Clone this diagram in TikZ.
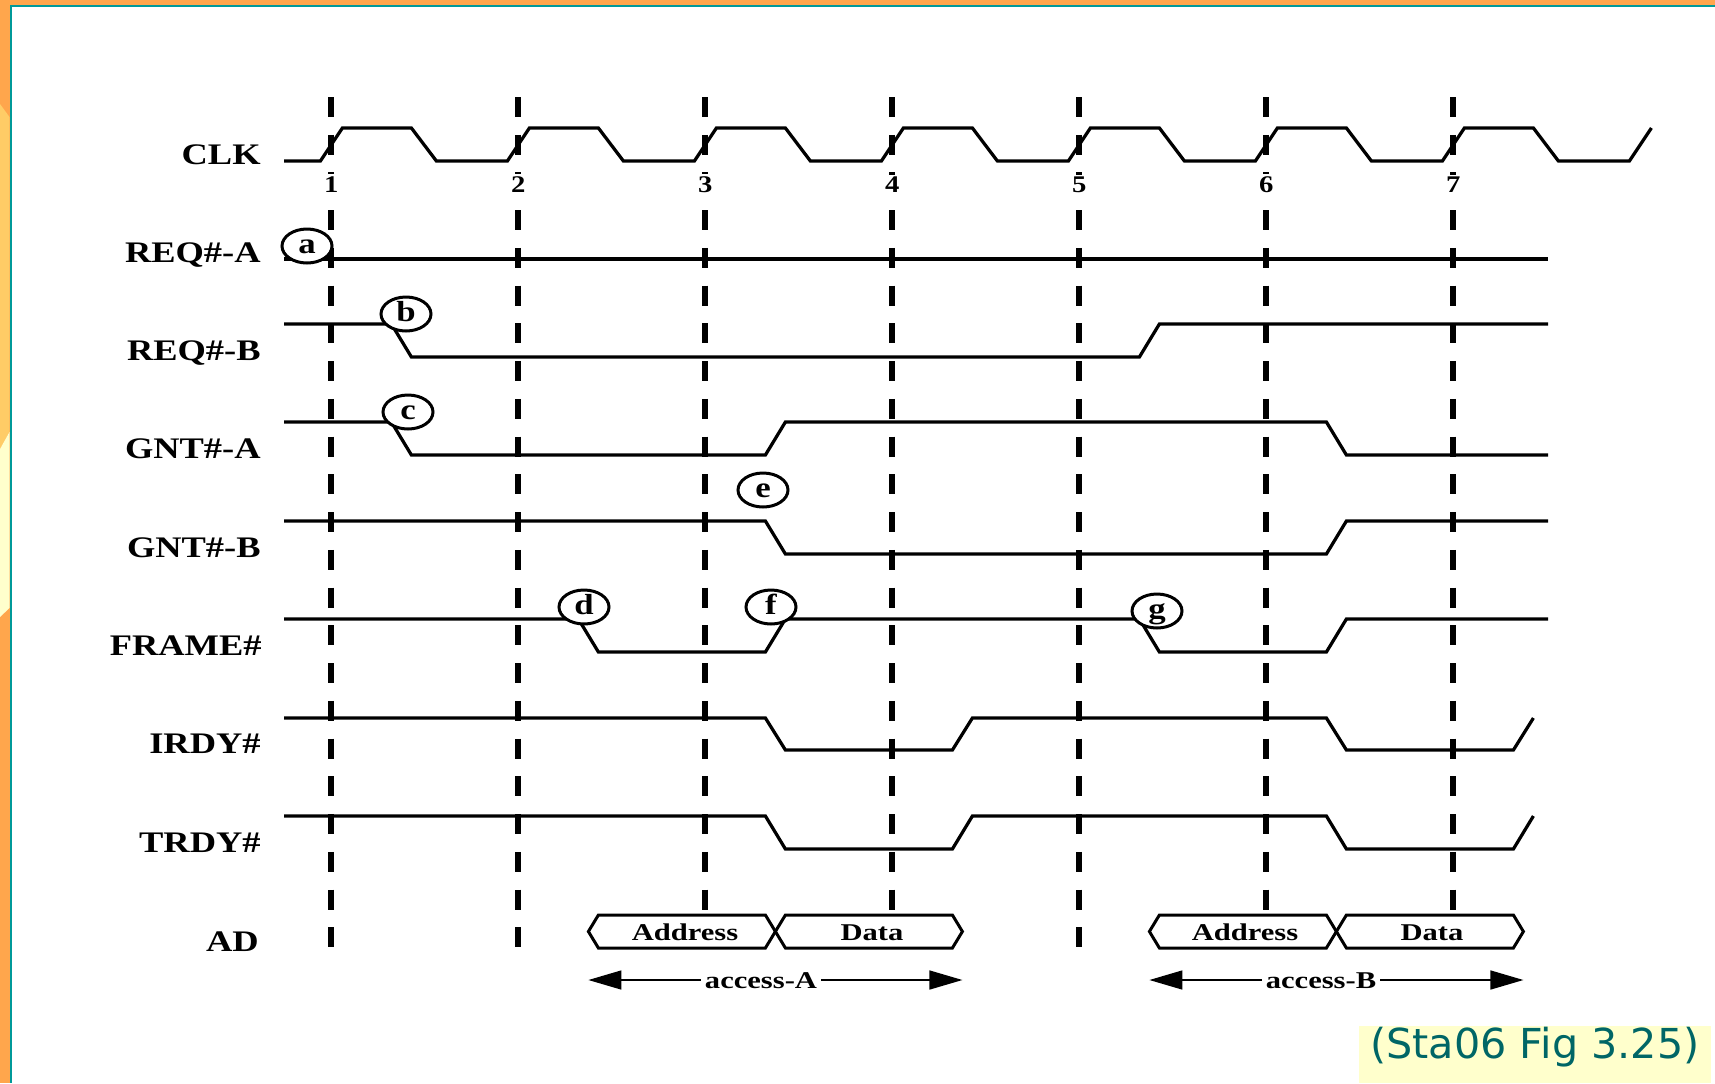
\documentclass[tikz,border=0pt]{standalone}
\usepackage{fontspec}
\usepackage{graphicx}
\setmainfont{Liberation Serif}
\newfontfamily\capfont{DejaVu Sans}
\usetikzlibrary{arrows.meta,shapes.geometric}
\definecolor{frameorange}{RGB}{255,166,76}
\definecolor{lightorange}{RGB}{255,204,102}
\definecolor{lightyellow}{RGB}{255,255,204}
\definecolor{frameteal}{RGB}{0,153,153}
\definecolor{captext}{RGB}{0,102,102}
\newcommand\wtext[2]{\scalebox{#1}[1]{#2}}
\tikzset{
  sig/.style={line width=0.065cm, line join=miter, line cap=butt},
  tickline/.style={line width=0.12cm, dash pattern=on 0.40cm off 0.355cm},
  lbl/.style={anchor=base east, inner sep=0pt, font=\fontsize{17}{20}\selectfont\bfseries},
  num/.style={anchor=base, fill=white, inner xsep=1pt, inner ysep=1pt, font=\fontsize{13.6}{16}\selectfont\bfseries},
  evt/.style={ellipse, draw, fill=white, line width=0.06cm, minimum width=1cm, minimum height=0.68cm, inner sep=0pt, text height=8.2pt, text depth=0pt, font=\fontsize{16.5}{19}\selectfont\bfseries},
  bus/.style={draw, fill=white, line width=0.06cm, line join=miter},
  bustext/.style={anchor=base, inner sep=0pt, font=\fontsize{13.7}{16}\selectfont\bfseries},
  acc/.style={line width=0.03cm, {Triangle[length=0.66cm,width=0.38cm]}-{Triangle[length=0.66cm,width=0.38cm]}},
  acctext/.style={anchor=base, fill=white, inner xsep=0.08cm, inner ysep=1pt, font=\fontsize{13.7}{16}\selectfont\bfseries}
}
\begin{document}
\begin{tikzpicture}[x=0.02cm,y=-0.02cm]
\path[use as bounding box] (0,0) rectangle (1715,1083);
\fill[white] (0,0) rectangle (1715,1083);
% slide frame
\fill[frameorange] (0,0) rectangle (1715,4.7);
\fill[frameorange] (0,0) rectangle (9.5,1083);
\fill[lightorange] (0,104) -- (9.5,117) -- (9.5,432) -- (0,449) -- cycle;
\fill[lightyellow] (0,449) -- (9.5,432) -- (9.5,608) -- (0,617) -- cycle;
\fill[frameteal] (9.5,4.7) rectangle (1715,6.7);
\fill[frameteal] (9.5,4.7) rectangle (11.5,1083);

% clock reference lines
\foreach \k in {0,...,6} \draw[tickline] ({331.4+187*\k},97) -- ({331.4+187*\k},947);

% clock numbers
\foreach \k [count=\n] in {0,...,6} \node[num] (n\n) at ({331.4+187*\k},192) {\wtext{1.2}{\n}};

% CLK
\draw[sig] (284,161) foreach \k in {0,...,6} { -- ({331.4+187*\k-11},161) -- ({331.4+187*\k+11},128) -- ({331.4+187*\k+80},128) -- ({331.4+187*\k+105},161) } -- (1629.4,161) -- (1651.4,128);
% REQ#-A
\draw[sig] (284,259) -- (1548,259);
% REQ#-B
\draw[sig] (284,324) -- (391.4,324) -- (411.4,357) -- (1139.4,357) -- (1159.4,324) -- (1548,324);
% GNT#-A
\draw[sig] (284,422) -- (391.4,422) -- (411.4,455) -- (765.4,455) -- (785.4,422) -- (1326.4,422) -- (1346.4,455) -- (1548,455);
% GNT#-B
\draw[sig] (284,521) -- (765.4,521) -- (785.4,554) -- (1326.4,554) -- (1346.4,521) -- (1548,521);
% FRAME#
\draw[sig] (284,619) -- (578.4,619) -- (598.4,652) -- (765.4,652) -- (785.4,619) -- (1139.4,619) -- (1159.4,652) -- (1326.4,652) -- (1346.4,619) -- (1548,619);
% IRDY#
\draw[sig] (284,718) -- (765.4,718) -- (785.4,750) -- (952.4,750) -- (972.4,718) -- (1326.4,718) -- (1346.4,750) -- (1513.4,750) -- (1533.4,718);
% TRDY#
\draw[sig] (284,816) -- (765.4,816) -- (785.4,849) -- (952.4,849) -- (972.4,816) -- (1326.4,816) -- (1346.4,849) -- (1513.4,849) -- (1533.4,816);

% AD bus
\draw[bus] (588.4,931.5) -- (598.4,915) -- (765.4,915) -- (775.4,931.5) -- (765.4,948) -- (598.4,948) -- cycle;
\draw[bus] (775.4,931.5) -- (785.4,915) -- (952.4,915) -- (962.4,931.5) -- (952.4,948) -- (785.4,948) -- cycle;
\draw[bus] (1149.4,931.5) -- (1159.4,915) -- (1326.4,915) -- (1336.4,931.5) -- (1326.4,948) -- (1159.4,948) -- cycle;
\draw[bus] (1336.4,931.5) -- (1346.4,915) -- (1513.4,915) -- (1523.4,931.5) -- (1513.4,948) -- (1346.4,948) -- cycle;
\node[bustext] (addrA) at (685,940) {\wtext{1.27}{Address}};
\node[bustext] (dataA) at (872,940) {\wtext{1.27}{Data}};
\node[bustext] (addrB) at (1245,940) {\wtext{1.27}{Address}};
\node[bustext] (dataB) at (1432,940) {\wtext{1.27}{Data}};

% access arrows
\coordinate (aAL) at (588.4,980);
\coordinate (aAR) at (962.4,980);
\coordinate (aBL) at (1149.4,980);
\coordinate (aBR) at (1523.4,980);
\draw[acc] (aAL) -- (aAR);
\draw[acc] (aBL) -- (aBR);
\node[acctext] (accA) at (761,988) {\wtext{1.27}{access-A}};
\node[acctext] (accB) at (1321,988) {\wtext{1.27}{access-B}};

% event markers
\node[evt] (ea) at (307,246) {\wtext{1.2}{a}};
\node[evt] (eb) at (406,314) {\wtext{1.2}{b}};
\node[evt] (ec) at (408,412) {\wtext{1.2}{c}};
\node[evt] (ed) at (584,607) {\wtext{1.2}{d}};
\node[evt] (ee) at (763,490) {\wtext{1.2}{e}};
\node[evt] (ef) at (771,607) {\wtext{1.2}{f}};
\node[evt] (eg) at (1157,611) {\wtext{1.2}{g}};

% signal labels
\node[lbl] (lclk) at (261,164) {\wtext{1.22}{CLK}};
\node[lbl] (lreqa) at (261,262) {\wtext{1.22}{REQ\#-A}};
\node[lbl] (lreqb) at (261,360) {\wtext{1.22}{REQ\#-B}};
\node[lbl] (lgnta) at (261,458) {\wtext{1.22}{GNT\#-A}};
\node[lbl] (lgntb) at (261,557) {\wtext{1.22}{GNT\#-B}};
\node[lbl] (lframe) at (262,655) {\wtext{1.22}{FRAME\#}};
\node[lbl] (lirdy) at (261,753) {\wtext{1.22}{IRDY\#}};
\node[lbl] (ltrdy) at (261,852) {\wtext{1.22}{TRDY\#}};
\node[lbl] (lad) at (259,951) {\wtext{1.22}{AD}};

% caption
\fill[lightyellow] (1359,1026) rectangle (1711,1083);
\node[anchor=base, inner sep=0pt, text=captext, font=\capfont\fontsize{23.5}{27}\selectfont] (cap) at (1535,1058) {(Sta06 Fig 3.25)};
\end{tikzpicture}
\end{document}
